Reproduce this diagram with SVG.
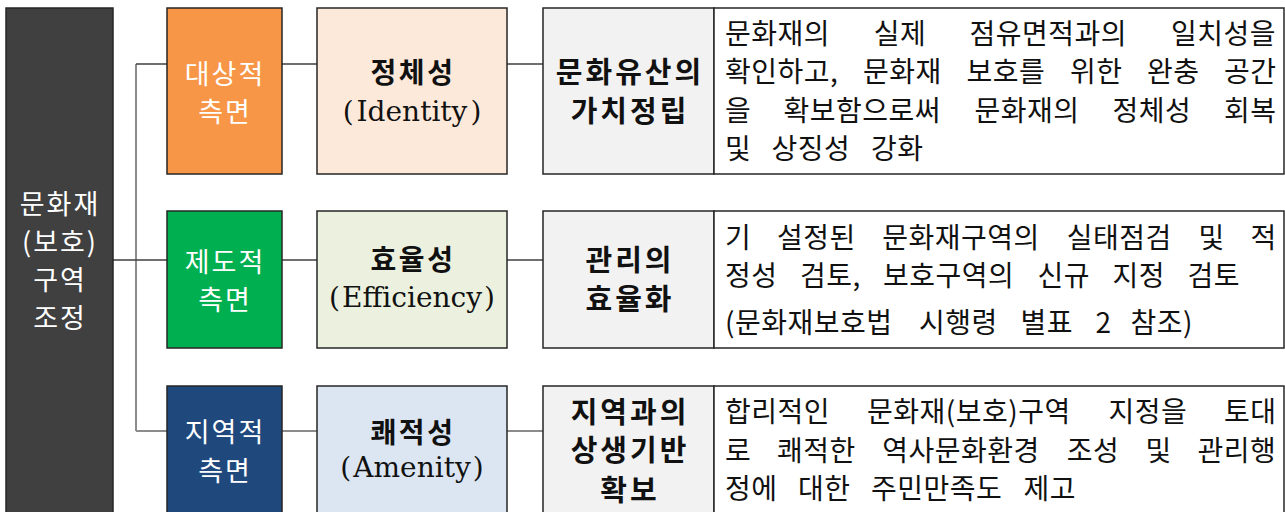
<svg xmlns="http://www.w3.org/2000/svg" width="1285" height="512" viewBox="0 0 1285 512">
<style>
.bx{stroke:#262626;stroke-width:1.5}
.w{font-family:"Noto Sans CJK KR","Noto Sans",sans-serif;font-size:27px;fill:#fff;text-anchor:middle;letter-spacing:2px}
.kb{font-family:"Noto Sans CJK KR","Noto Sans",sans-serif;font-size:28px;font-weight:bold;fill:#111;text-anchor:middle;letter-spacing:2.5px}
.kg{font-family:"Noto Sans CJK KR","Noto Sans",sans-serif;font-size:29px;font-weight:bold;fill:#111;text-anchor:middle;letter-spacing:3px}
.en{font-family:"DejaVu Serif","Liberation Serif",serif;font-size:28px;fill:#111;text-anchor:middle}
.t{font-family:"Noto Sans CJK KR","Noto Sans",sans-serif;font-size:28px;fill:#111;letter-spacing:0.5px}
.c{stroke:#404040;stroke-width:1.3;fill:none}
.cg{stroke:#8c8c8c;stroke-width:2;fill:none}
</style>
<rect width="1285" height="512" fill="#fff"/>
<g id="connectors">
<path class="cg" d="M136,64 V431"/>
<path class="c" d="M136,64 H167 M282,64 H317 M507,64 H543"/>
<path class="c" d="M113,260 H167 M282,260 H317 M507,260 H543"/>
<path class="cg" d="M136,431 H167 M282,431 H317 M507,431 H543"/>
</g>
<g id="root">
<rect class="bx" x="6" y="8" width="107" height="512" fill="#404040"/>
<text class="w" x="60" y="214">문화재</text>
<text class="w" x="60" y="252">(보호)</text>
<text class="w" x="60" y="290">구역</text>
<text class="w" x="60" y="328">조정</text>
</g>
<g id="aspect1">
<rect class="bx" x="167" y="8" width="115" height="166" fill="#F79646"/>
<text class="w" x="225" y="84">대상적</text>
<text class="w" x="225" y="122">측면</text>
</g>
<g id="aspect2">
<rect class="bx" x="167" y="211" width="115" height="137" fill="#00B050"/>
<text class="w" x="225" y="272">제도적</text>
<text class="w" x="225" y="310">측면</text>
</g>
<g id="aspect3">
<rect class="bx" x="167" y="386" width="115" height="134" fill="#1F497D"/>
<text class="w" x="225" y="442">지역적</text>
<text class="w" x="225" y="481">측면</text>
</g>
<g id="value1">
<rect class="bx" x="317" y="8" width="190" height="166" fill="#FDE9D9"/>
<text class="kb" x="413" y="83">정체성</text>
<text class="en" x="412" y="121">(<tspan dx="3">Identity</tspan><tspan dx="3">)</tspan></text>
</g>
<g id="value2">
<rect class="bx" x="317" y="211" width="190" height="137" fill="#EBF1DE"/>
<text class="kb" x="413" y="270">효율성</text>
<text class="en" x="412" y="307">(<tspan dx="2">Efficiency</tspan><tspan dx="2">)</tspan></text>
</g>
<g id="value3">
<rect class="bx" x="317" y="386" width="190" height="134" fill="#DCE6F2"/>
<text class="kb" x="413" y="443">쾌적성</text>
<text class="en" x="412" y="477">(<tspan dx="2">Amenity</tspan><tspan dx="2">)</tspan></text>
</g>
<g id="goal1">
<rect class="bx" x="543" y="8" width="171" height="166" fill="#F2F2F2"/>
<text class="kg" x="630" y="83">문화유산의</text>
<text class="kg" x="630" y="122">가치정립</text>
</g>
<g id="goal2">
<rect class="bx" x="543" y="211" width="171" height="137" fill="#F2F2F2"/>
<text class="kg" x="630" y="271">관리의</text>
<text class="kg" x="630" y="310">효율화</text>
</g>
<g id="goal3">
<rect class="bx" x="543" y="386" width="171" height="134" fill="#F2F2F2"/>
<text class="kg" x="630" y="423">지역과의</text>
<text class="kg" x="630" y="461">상생기반</text>
<text class="kg" x="630" y="501">확보</text>
</g>
<g id="desc1">
<rect class="bx" x="714" y="8" width="570" height="166" fill="#fff"/>
<text class="t" y="44"><tspan x="725">문화재의</tspan> <tspan x="873.7">실제</tspan> <tspan x="969.4">점유면적과의</tspan> <tspan x="1171">일치성을</tspan></text>
<text class="t" y="82"><tspan x="725">확인하고,</tspan> <tspan x="863">문화재</tspan> <tspan x="966.5">보호를</tspan> <tspan x="1070">위한</tspan> <tspan x="1147">완충</tspan> <tspan x="1224">공간</tspan></text>
<text class="t" y="121"><tspan x="725">을</tspan> <tspan x="783.5">확보함으로써</tspan> <tspan x="974.5">문화재의</tspan> <tspan x="1112.5">정체성</tspan> <tspan x="1224">회복</tspan></text>
<text class="t" y="159"><tspan x="725">및</tspan> <tspan x="771.5">상징성</tspan> <tspan x="871">강화</tspan></text>
</g>
<g id="desc2">
<rect class="bx" x="714" y="211" width="570" height="137" fill="#fff"/>
<text class="t" y="248"><tspan x="725">기</tspan> <tspan x="777.1">설정된</tspan> <tspan x="882.2">문화재구역의</tspan> <tspan x="1066.8">실태점검</tspan> <tspan x="1198.4">및</tspan> <tspan x="1250.5">적</tspan></text>
<text class="t" y="286"><tspan x="725">정성</tspan> <tspan x="800">검토,</tspan> <tspan x="883">보호구역의</tspan> <tspan x="1037.5">신규</tspan> <tspan x="1112.5">지정</tspan> <tspan x="1187.5">검토</tspan></text>
<text class="t" y="333"><tspan x="725">(문화재보호법</tspan> <tspan x="919">시행령</tspan> <tspan x="1020.5">별표</tspan> <tspan x="1095.5">2</tspan> <tspan x="1130.5">참조)</tspan></text>
</g>
<g id="desc3">
<rect class="bx" x="714" y="386" width="570" height="134" fill="#fff"/>
<text class="t" y="422"><tspan x="725">합리적인</tspan> <tspan x="867">문화재(보호)구역</tspan> <tspan x="1108.5">지정을</tspan> <tspan x="1224">토대</tspan></text>
<text class="t" y="461"><tspan x="725">로</tspan> <tspan x="777.1">쾌적한</tspan> <tspan x="882.2">역사문화환경</tspan> <tspan x="1066.8">조성</tspan> <tspan x="1145.4">및</tspan> <tspan x="1197.5">관리행</tspan></text>
<text class="t" y="499"><tspan x="725">정에</tspan> <tspan x="798">대한</tspan> <tspan x="871">주민만족도</tspan> <tspan x="1023.5">제고</tspan></text>
</g>
</svg>
